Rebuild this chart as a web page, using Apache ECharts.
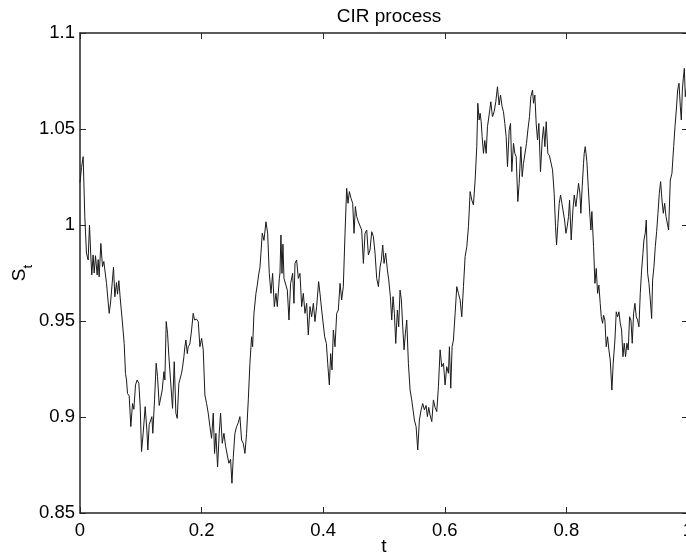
<!DOCTYPE html>
<html><head><meta charset="utf-8">
<script src="https://cdn.jsdelivr.net/npm/echarts@6/dist/echarts.min.js"></script>
<style>html,body{margin:0;padding:0;background:#fff}#c{width:686px;height:557px}</style>
</head><body><div id="c"></div>
<script>
const titleText = 'CIR process';
const xName = 't';
const yMain = 'S';
const ySub = 't';
const xTicks = [0, 0.2, 0.4, 0.6, 0.8, 1];
const yTicks = [0.85, 0.9, 0.95, 1, 1.05, 1.1];

const tValues = [
0, 0.0025, 0.0052, 0.0079, 0.0106, 0.0134, 0.0156, 0.0178, 0.0194, 0.0216,
0.0233, 0.0255, 0.0282, 0.0299, 0.0315, 0.0343, 0.0370, 0.0392, 0.0414, 0.0436,
0.0480, 0.0502, 0.0529, 0.0551, 0.0573, 0.0600, 0.0617, 0.0639, 0.0661, 0.0694,
0.0727, 0.0748, 0.0765, 0.0781, 0.0809, 0.0836, 0.0864, 0.0886, 0.0913, 0.0940,
0.0968, 0.0990, 0.1012, 0.1039, 0.1072, 0.1100, 0.1116, 0.1138, 0.1160, 0.1182,
0.1198, 0.1226, 0.1253, 0.1275, 0.1303, 0.1330, 0.1352, 0.1380, 0.1396, 0.1418,
0.1440, 0.1462, 0.1489, 0.1522, 0.1550, 0.1577, 0.1599, 0.1626,
0.1670, 0.1687, 0.1709, 0.1725, 0.1742, 0.1764, 0.1780, 0.1807, 0.1835, 0.1862,
0.1884, 0.1917, 0.1945, 0.1972, 0.2000, 0.2027, 0.2054, 0.2082, 0.2109, 0.2137,
0.2164, 0.2192, 0.2213, 0.2235, 0.2263, 0.2290, 0.2312, 0.2340, 0.2367, 0.2394,
0.2422, 0.2449, 0.2477, 0.2499, 0.2521, 0.2548, 0.2576, 0.2603, 0.2630, 0.2658,
0.2685, 0.2713, 0.2740, 0.2768, 0.2795, 0.2822, 0.2839, 0.2861, 0.2894, 0.2916,
0.2938, 0.2960, 0.2976, 0.2998, 0.3026, 0.3058, 0.3086, 0.3113, 0.3141, 0.3168,
0.3196, 0.3223, 0.3245, 0.3278,
0.3289, 0.3305, 0.3322, 0.3338, 0.3355, 0.3382, 0.3410, 0.3437, 0.3464, 0.3497,
0.3519, 0.3536, 0.3563, 0.3591, 0.3618, 0.3646, 0.3673, 0.3700, 0.3728, 0.3755,
0.3783, 0.3810, 0.3838, 0.3865, 0.3892, 0.3925, 0.3947, 0.3975, 0.4002, 0.4024,
0.4052, 0.4074, 0.4101, 0.4123, 0.4145, 0.4167, 0.4194, 0.4222, 0.4249, 0.4277,
0.4304, 0.4331, 0.4359, 0.4386, 0.4408, 0.4430, 0.4458, 0.4485, 0.4507, 0.4529,
0.4551, 0.4578, 0.4606, 0.4633, 0.4661, 0.4688, 0.4716, 0.4743, 0.4770, 0.4798,
0.4825, 0.4853, 0.4880, 0.4908,
0.4935, 0.4957, 0.4979, 0.5001, 0.5028, 0.5056, 0.5078, 0.5105, 0.5127, 0.5149,
0.5171, 0.5193, 0.5220, 0.5242, 0.5264, 0.5286, 0.5308, 0.5330, 0.5352, 0.5374,
0.5401, 0.5429, 0.5456, 0.5478, 0.5500, 0.5528, 0.5555, 0.5582, 0.5610, 0.5637,
0.5665, 0.5692, 0.5714, 0.5736, 0.5758, 0.5786, 0.5813, 0.5840, 0.5868, 0.5895,
0.5923, 0.5950, 0.5978, 0.6005, 0.6032, 0.6060, 0.6076, 0.6098, 0.6120, 0.6142,
0.6170, 0.6197, 0.6224, 0.6252, 0.6279, 0.6307, 0.6334, 0.6362, 0.6389, 0.6417,
0.6444, 0.6471, 0.6499, 0.6526, 0.6543, 0.6565,
0.6581, 0.6598, 0.6614, 0.6636, 0.6658, 0.6680, 0.6702, 0.6729, 0.6757, 0.6784,
0.6812, 0.6839, 0.6866, 0.6894, 0.6916, 0.6943, 0.6965, 0.6987, 0.7009, 0.7031,
0.7059, 0.7081, 0.7102, 0.7130, 0.7152, 0.7174, 0.7201, 0.7223, 0.7251, 0.7273,
0.7294, 0.7322, 0.7344, 0.7366, 0.7393, 0.7415, 0.7443, 0.7459, 0.7481, 0.7503,
0.7525, 0.7547, 0.7574, 0.7602, 0.7624, 0.7646, 0.7668, 0.7695, 0.7722, 0.7744,
0.7772, 0.7799, 0.7821, 0.7838, 0.7860, 0.7882, 0.7904, 0.7926, 0.7948, 0.7970,
0.7992, 0.8013, 0.8035, 0.8052, 0.8079, 0.8107, 0.8129, 0.8156, 0.8178, 0.8200,
0.8222, 0.8238, 0.8260, 0.8282, 0.8293, 0.8310,
0.8337, 0.8359, 0.8381, 0.8403, 0.8419, 0.8447, 0.8469, 0.8491, 0.8513, 0.8534,
0.8556, 0.8573, 0.8595, 0.8611, 0.8633, 0.8655, 0.8677, 0.8699, 0.8721, 0.8748,
0.8770, 0.8798, 0.8820, 0.8842, 0.8864, 0.8886, 0.8908, 0.8930, 0.8951, 0.8973,
0.8995, 0.9017, 0.9039, 0.9061, 0.9083, 0.9105, 0.9127, 0.9149, 0.9171, 0.9193,
0.9215, 0.9237, 0.9259, 0.9275, 0.9297, 0.9314, 0.9336, 0.9358, 0.9380, 0.9402,
0.9418, 0.9440, 0.9462, 0.9484, 0.9506, 0.9528, 0.9550, 0.9572, 0.9594, 0.9616,
0.9638, 0.9660, 0.9681, 0.9709, 0.9736, 0.9764, 0.9786, 0.9808, 0.9830, 0.9852,
0.9874, 0.9890, 0.9907, 0.9923, 0.9940, 0.9956, 0.9973, 1.0000
];

const sValues = [
1.0220, 1.0300, 1.0356, 1.0043, 0.9854, 0.9818, 1.0000, 0.9838, 0.9740, 0.9844,
0.9750, 0.9840, 0.9740, 0.9820, 0.9730, 0.9904, 0.9783, 0.9810, 0.9800, 0.9696,
0.9540, 0.9594, 0.9696, 0.9780, 0.9626, 0.9700, 0.9640, 0.9710, 0.9620, 0.9505,
0.9383, 0.9227, 0.9193, 0.9123, 0.9110, 0.8950, 0.9070, 0.9040, 0.9167, 0.9193,
0.9175, 0.9054, 0.8820, 0.8915, 0.9054, 0.8930, 0.8828, 0.8960, 0.8970, 0.9002,
0.8915, 0.9089, 0.9280, 0.9210, 0.9060, 0.9070, 0.9140, 0.9236, 0.9193, 0.9497,
0.9436, 0.9314, 0.9193, 0.9045, 0.9288, 0.9020, 0.8993, 0.9175,
0.9228, 0.9260, 0.9314, 0.9366, 0.9401, 0.9330, 0.9366, 0.9380, 0.9453, 0.9540,
0.9505, 0.9510, 0.9497, 0.9366, 0.9410, 0.9350, 0.9115, 0.9070, 0.9020, 0.8950,
0.8889, 0.9020, 0.8810, 0.8915, 0.8740, 0.8915, 0.9020, 0.8863, 0.8915, 0.8850,
0.8802, 0.8759, 0.8780, 0.8655, 0.8790, 0.8915, 0.8950, 0.8970, 0.9002, 0.8880,
0.8863, 0.8810, 0.8915, 0.9089, 0.9280, 0.9418, 0.9366, 0.9540, 0.9644, 0.9687,
0.9740, 0.9780, 0.9853, 0.9957, 0.9920, 1.0017, 0.9957, 0.9748, 0.9644, 0.9748,
0.9575, 0.9644, 0.9575, 0.9720,
0.9750, 0.9948, 0.9748, 0.9900, 0.9722, 0.9714, 0.9661, 0.9505, 0.9696, 0.9748,
0.9592, 0.9800, 0.9818, 0.9722, 0.9748, 0.9575, 0.9644, 0.9540, 0.9592, 0.9427,
0.9575, 0.9522, 0.9592, 0.9497, 0.9575, 0.9705, 0.9644, 0.9557, 0.9550, 0.9418,
0.9383, 0.9280, 0.9167, 0.9330, 0.9245, 0.9453, 0.9366, 0.9540, 0.9557, 0.9696,
0.9610, 0.9679, 0.9957, 1.0191, 1.0113, 1.0174, 1.0139, 1.0113, 0.9957, 1.0096,
1.0044, 1.0017, 1.0026, 0.9974, 0.9800, 0.9957, 0.9974, 0.9844, 0.9870, 0.9965,
0.9940, 0.9853, 0.9722, 0.9679,
0.9780, 0.9818, 0.9896, 0.9800, 0.9853, 0.9766, 0.9714, 0.9627, 0.9505, 0.9627,
0.9540, 0.9383, 0.9557, 0.9470, 0.9661, 0.9610, 0.9470, 0.9350, 0.9436, 0.9505,
0.9280, 0.9140, 0.9089, 0.9037, 0.8984, 0.8950, 0.8828, 0.8984, 0.9037, 0.9070,
0.9037, 0.9060, 0.9002, 0.9050, 0.9010, 0.8976, 0.9089, 0.9050, 0.9028, 0.9158,
0.9350, 0.9262, 0.9280, 0.9167, 0.9262, 0.9228, 0.9366, 0.9150, 0.9366, 0.9401,
0.9540, 0.9679, 0.9644, 0.9610, 0.9522, 0.9679, 0.9835, 0.9887, 0.9991, 1.0174,
1.0130, 1.0105, 1.0234, 1.0408, 1.0634, 1.0547,
1.0582, 1.0538, 1.0460, 1.0373, 1.0440, 1.0373, 1.0512, 1.0573, 1.0642, 1.0564,
1.0590, 1.0642, 1.0720, 1.0625, 1.0677, 1.0616, 1.0590, 1.0529, 1.0460, 1.0304,
1.0494, 1.0529, 1.0278, 1.0425, 1.0373, 1.0356, 1.0122, 1.0217, 1.0408, 1.0252,
1.0321, 1.0330, 1.0425, 1.0494, 1.0564, 1.0668, 1.0703, 1.0634, 1.0677, 1.0529,
1.0443, 1.0529, 1.0278, 1.0443, 1.0512, 1.0408, 1.0538, 1.0373, 1.0360, 1.0356,
1.0287, 1.0165, 0.9991, 0.9896, 1.0009, 1.0113, 1.0156, 1.0113, 1.0110, 1.0026,
0.9957, 0.9991, 1.0044, 1.0130, 0.9922, 1.0078, 1.0156, 1.0096, 1.0090, 1.0217,
1.0165, 1.0061, 1.0200, 1.0321, 1.0373, 1.0408,
1.0330, 1.0200, 1.0078, 0.9974, 1.0070, 0.9887, 0.9696, 0.9774, 0.9644, 0.9687,
0.9592, 0.9522, 0.9488, 0.9530, 0.9505, 0.9366, 0.9418, 0.9349, 0.9297, 0.9140,
0.9280, 0.9401, 0.9548, 0.9522, 0.9548, 0.9488, 0.9453, 0.9314, 0.9384, 0.9314,
0.9384, 0.9349, 0.9522, 0.9505, 0.9384, 0.9540, 0.9592, 0.9522, 0.9505, 0.9470,
0.9644, 0.9765, 0.9852, 0.9922, 0.9957, 1.0026, 0.9748, 0.9696, 0.9609, 0.9513,
0.9713, 0.9783, 0.9887, 0.9965, 1.0061, 1.0165, 1.0226, 1.0130, 1.0061, 1.0113,
1.0044, 1.0040, 0.9974, 1.0234, 1.0269, 1.0408, 1.0512, 1.0599, 1.0703, 1.0738,
1.0616, 1.0547, 1.0703, 1.0764, 1.0816, 1.0668, 1.0712, 1.0680
];

const FONT = '"Liberation Sans", Arial, Helvetica, sans-serif';
const AX = '#262626';
const seriesData = tValues.map((t, i) => [t, sValues[i]]);
const xStep = xTicks[1] - xTicks[0];
const yStep = +(yTicks[1] - yTicks[0]).toFixed(4);

function axisBase(extra) {
  return Object.assign({
    type: 'value',
    axisLine: { show: true, onZero: false, lineStyle: { color: AX, width: 1.5 } },
    axisTick: { show: true, inside: true, length: 6, lineStyle: { color: AX, width: 1 } },
    splitLine: { show: false },
    axisLabel: { color: '#000', fontFamily: FONT, fontSize: 18.5 }
  }, extra);
}

const chart = echarts.init(document.getElementById('c'), null, { renderer: 'canvas' });
chart.setOption({
  animation: false,
  backgroundColor: '#fff',
  title: {
    text: titleText, left: 384, top: 2, textAlign: 'center',
    textStyle: { fontFamily: FONT, fontSize: 19, fontWeight: 'normal', color: '#000' }
  },
  grid: { left: 80, top: 33, width: 608, height: 480, containLabel: false, outerBoundsMode: 'none' },
  xAxis: [
    axisBase({
      position: 'bottom', min: xTicks[0], max: xTicks[xTicks.length - 1], interval: xStep,
      name: xName, nameLocation: 'middle', nameGap: 24, nameMoveOverlap: false,
      nameTextStyle: { fontFamily: FONT, fontSize: 19, color: '#000', verticalAlign: 'top' },
      axisLabel: { color: '#000', fontFamily: FONT, fontSize: 18.5, margin: 8, showMaxLabel: true, showMinLabel: true, hideOverlap: false }
    }),
    axisBase({
      position: 'top', min: xTicks[0], max: xTicks[xTicks.length - 1], interval: xStep,
      axisLabel: { show: false }
    })
  ],
  yAxis: [
    axisBase({
      position: 'left', min: yTicks[0], max: yTicks[yTicks.length - 1], interval: yStep,
      name: '{s|' + yMain + '}{b|' + ySub + '}', nameLocation: 'middle', nameGap: 50, nameMoveOverlap: false,
      nameTextStyle: {
        rich: {
          s: { fontFamily: FONT, fontSize: 19, color: '#000', lineHeight: 20, verticalAlign: 'top' },
          b: { fontFamily: FONT, fontSize: 13, color: '#000', lineHeight: 13, padding: [12, 0, 0, 0], verticalAlign: 'top' }
        }
      },
      axisLabel: { color: '#000', fontFamily: FONT, fontSize: 18.5, margin: 5, showMaxLabel: true, showMinLabel: true }
    }),
    axisBase({
      position: 'right', min: yTicks[0], max: yTicks[yTicks.length - 1], interval: yStep,
      axisLabel: { show: false }
    })
  ],
  series: [{
    type: 'line', xAxisIndex: 0, yAxisIndex: 0,
    data: seriesData, showSymbol: false, symbol: 'none',
    lineStyle: { color: '#1a1a1a', width: 1 },
    clip: true, silent: true
  }]
});
</script></body></html>
